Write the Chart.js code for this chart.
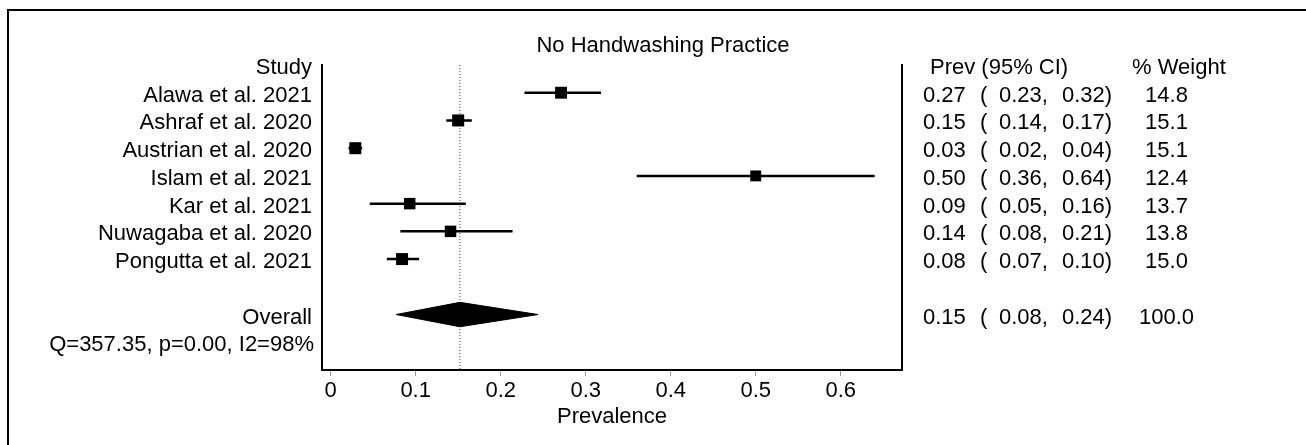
<!DOCTYPE html>
<html>
<head>
<meta charset="utf-8">
<title>No Handwashing Practice</title>
<script src="https://cdn.jsdelivr.net/npm/chart.js@4.4.1/dist/chart.umd.min.js"></script>
<style>
  html, body { margin: 0; padding: 0; background: #fff; }
  canvas { display: block; }
</style>
</head>
<body>
<canvas id="forest" width="1306" height="445"></canvas>
<script>
// study rows, top to bottom
const studies = ['Alawa et al. 2021', 'Ashraf et al. 2020', 'Austrian et al. 2020', 'Islam et al. 2021',
                 'Kar et al. 2021', 'Nuwagaba et al. 2020', 'Pongutta et al. 2021'];
const prev    = [0.271, 0.150, 0.029, 0.500, 0.093, 0.141, 0.084];
const ciLow   = [0.228, 0.136, 0.021, 0.360, 0.046, 0.082, 0.066];
const ciHigh  = [0.318, 0.166, 0.037, 0.640, 0.159, 0.214, 0.104];
const weights = [14.8, 15.1, 15.1, 12.4, 13.7, 13.8, 15.0];

// pooled estimate
const overallPrev = 0.152;
const overallLow  = 0.077;
const overallHigh = 0.244;
const overallWeight = 100.0;
const heterogeneity = 'Q=357.35, p=0.00, I2=98%';

const xTicks = [0, 0.1, 0.2, 0.3, 0.4, 0.5, 0.6];
const xTickLabels = ['0', '0.1', '0.2', '0.3', '0.4', '0.5', '0.6'];

const FONT = "'Liberation Sans', Arial, Helvetica, sans-serif";
const FONT_SIZE = 22;

// row layout: 0 = header, 1..7 studies, 9 overall, 10 heterogeneity, 11 = axis
const OVERALL_ROW = 9, HET_ROW = 10, LAST_ROW = 11;

const squares = studies.map((s, i) => ({ x: prev[i], y: i + 1 }));
const squareRadius = weights.map(w => 8.5 * Math.sqrt(w / 15.1));

const ciLines = [];
studies.forEach((s, i) => {
    ciLines.push({ x: ciLow[i], y: i + 1 }, { x: ciHigh[i], y: i + 1 }, { x: null, y: null });
});

const halfDiamond = 0.44;
const diamond = [
    { x: overallLow, y: OVERALL_ROW },
    { x: overallPrev, y: OVERALL_ROW - halfDiamond },
    { x: overallHigh, y: OVERALL_ROW },
    { x: overallPrev, y: OVERALL_ROW + halfDiamond },
    { x: overallLow, y: OVERALL_ROW }
];

const refLine = [{ x: overallPrev, y: 0 }, { x: overallPrev, y: LAST_ROW }];

const textPlugin = {
    id: 'forestText',
    beforeDraw(chart) {
        const ctx = chart.ctx;
        ctx.save();
        ctx.fillStyle = '#fff';
        ctx.fillRect(0, 0, chart.width, chart.height);
        ctx.strokeStyle = '#000';
        ctx.lineWidth = 2;
        ctx.strokeRect(8, 10, chart.width + 20, chart.height + 20);
        ctx.restore();
    },
    afterDraw(chart) {
        const ctx = chart.ctx;
        const yPix = v => chart.scales.y.getPixelForValue(v) + 9;
        ctx.save();
        ctx.fillStyle = '#000';
        ctx.font = FONT_SIZE + 'px ' + FONT;
        ctx.textBaseline = 'alphabetic';

        // title
        ctx.textAlign = 'center';
        ctx.fillText('No Handwashing Practice', 663, 52);

        // left labels
        ctx.textAlign = 'right';
        ctx.fillText('Study', 312, yPix(0));
        studies.forEach((s, i) => ctx.fillText(s, 312, yPix(i + 1)));
        ctx.fillText('Overall', 312, yPix(OVERALL_ROW));
        ctx.fillText(heterogeneity, 314, yPix(HET_ROW));

        // right columns
        ctx.textAlign = 'left';
        ctx.fillText('Prev (95% CI)', 930, yPix(0));
        ctx.fillText('% Weight', 1132, yPix(0));
        const row = (est, lo, hi, w, r) => {
            const y = yPix(r);
            ctx.fillText(est.toFixed(2), 923, y);
            ctx.fillText('(', 980, y);
            ctx.fillText(lo.toFixed(2) + ',', 999, y);
            ctx.fillText(hi.toFixed(2) + ')', 1062, y);
            ctx.fillText(w.toFixed(1).padStart(5, ' '), 1139, y);
        };
        studies.forEach((s, i) => row(prev[i], ciLow[i], ciHigh[i], weights[i], i + 1));
        row(overallPrev, overallLow, overallHigh, overallWeight, OVERALL_ROW);
        ctx.restore();
    }
};

const hiddenY = (pos) => ({
    type: 'linear',
    position: pos,
    min: 0,
    max: LAST_ROW,
    reverse: true,
    ticks: { display: false },
    grid: { display: false, drawTicks: false },
    border: { display: true, color: '#000', width: 2 },
    afterFit: s => { s.width = 0; }
});

new Chart(document.getElementById('forest'), {
    type: 'scatter',
    data: {
        datasets: [
            {
                label: 'Studies',
                data: squares,
                pointStyle: 'rect',
                pointRadius: squareRadius,
                pointHoverRadius: squareRadius,
                backgroundColor: '#000',
                borderColor: '#000',
                borderWidth: 0,
                clip: false
            },
            {
                label: '95% CI',
                data: ciLines,
                showLine: true,
                spanGaps: false,
                pointRadius: 0,
                borderColor: '#000',
                borderWidth: 2.5,
                clip: false
            },
            {
                label: 'Overall',
                data: diamond,
                showLine: true,
                pointRadius: 0,
                tension: 0,
                borderColor: '#000',
                borderWidth: 1,
                backgroundColor: '#000',
                fill: 'shape',
                clip: false
            },
            {
                label: 'Pooled',
                data: refLine,
                showLine: true,
                pointRadius: 0,
                borderColor: '#444',
                borderWidth: 1,
                borderDash: [1, 2],
                clip: false
            }
        ]
    },
    options: {
        responsive: false,
        animation: false,
        devicePixelRatio: 1,
        layout: { padding: { left: 322, right: 404, top: 65, bottom: 0 } },
        plugins: {
            legend: { display: false },
            tooltip: { enabled: false },
            title: { display: false }
        },
        scales: {
            x: {
                type: 'linear',
                min: -0.0102,
                max: 0.6721,
                afterBuildTicks: s => { s.ticks = xTicks.map(v => ({ value: v })); },
                afterFit: s => { s.height = 75; },
                grid: { drawOnChartArea: false, drawTicks: true, tickLength: 6, color: '#9a9a9a', lineWidth: 1 },
                border: { display: true, color: '#000', width: 2 },
                ticks: {
                    color: '#000',
                    font: { family: FONT, size: FONT_SIZE },
                    padding: 2,
                    maxRotation: 0,
                    autoSkip: false,
                    callback: (v, i) => xTickLabels[i]
                },
                title: {
                    display: true,
                    text: 'Prevalence',
                    color: '#000',
                    font: { family: FONT, size: FONT_SIZE },
                    padding: { top: 0, bottom: 15 }
                }
            },
            y: hiddenY('left'),
            y2: hiddenY('right')
        }
    },
    plugins: [textPlugin]
});
</script>
</body>
</html>
